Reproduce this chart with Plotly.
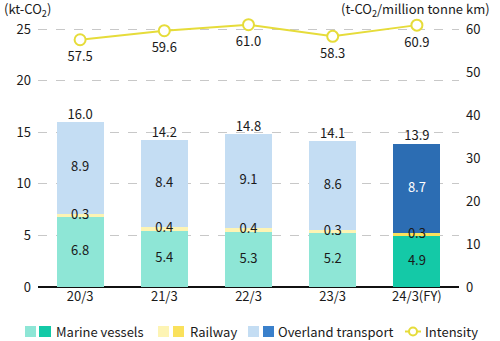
import plotly.graph_objects as go

categories = ["20/3", "21/3", "22/3", "23/3", "24/3(FY)"]
marine = [6.8, 5.4, 5.3, 5.2, 4.9]
railway = [0.3, 0.4, 0.4, 0.3, 0.3]
overland = [8.9, 8.4, 9.1, 8.6, 8.7]
totals = [16.0, 14.2, 14.8, 14.1, 13.9]
intensity = [57.5, 59.6, 61.0, 58.3, 60.9]

FONT = "Noto Sans CJK JP"
TXT = "#1a1a1a"
W, H = 500, 341
L, R, T, B = 38, 41, 18, 54

marine_c = ["#8ee6d6"] * 4 + ["#14c9a7"]
rail_c = ["#fdf4b4"] * 4 + ["#fae15c"]
over_c = ["#c4ddf3"] * 4 + ["#2c6db3"]
over_txt = [TXT] * 4 + ["#ffffff"]
YEL = "#e6dc3a"

fig = go.Figure()
fig.add_bar(x=categories, y=marine, marker=dict(color=marine_c, line=dict(width=0)), hoverinfo="skip")
fig.add_bar(x=categories, y=railway, marker=dict(color=rail_c, line=dict(width=0)), hoverinfo="skip")
fig.add_bar(x=categories, y=overland, marker=dict(color=over_c, line=dict(width=0)), hoverinfo="skip")

mid_m = [m / 2 for m in marine]
mid_r = [m + r / 2 for m, r in zip(marine, railway)]
mid_o = [m + r + o / 2 for m, r, o in zip(marine, railway, overland)]
tf = dict(family=FONT, size=13, color=TXT)
fig.add_scatter(x=categories, y=mid_m, mode="text", text=[f"{v:.1f}" for v in marine], textfont=tf, hoverinfo="skip")
fig.add_scatter(x=categories, y=mid_r, mode="text", text=[f"{v:.1f}" for v in railway], textfont=tf, hoverinfo="skip")
fig.add_scatter(x=categories, y=mid_o, mode="text", text=[f"{v:.1f}" for v in overland],
                textfont=dict(family=FONT, size=13, color=over_txt), hoverinfo="skip")
fig.add_scatter(x=categories, y=totals, mode="text", text=[f"{v:.1f}" for v in totals],
                textposition="top center", textfont=tf, hoverinfo="skip")

fig.add_scatter(x=categories, y=intensity, yaxis="y2", mode="lines+markers",
                line=dict(color=YEL, width=2),
                marker=dict(size=11, color="white", line=dict(color=YEL, width=2)),
                cliponaxis=False, hoverinfo="skip")
fig.add_scatter(x=categories, y=intensity, yaxis="y2", mode="markers+text",
                text=[f"{v:.1f}" for v in intensity], textposition="bottom center", textfont=tf,
                marker=dict(size=17, opacity=0),
                cliponaxis=False, hoverinfo="skip")

pw = W - L - R
ph = H - T - B
def px(x):
    return (x - L) / pw
def py(y):
    return (H - B - y) / ph

shapes = []
annotations = []
sw = [(25, 36, marine_c[0]), (39, 51, marine_c[4]), (158, 169, rail_c[0]), (173, 184, rail_c[4]),
      (248, 259, over_c[0]), (263, 274, "#3a80cb")]
for x0, x1, c in sw:
    shapes.append(dict(type="rect", xref="paper", yref="paper", x0=px(x0), x1=px(x1),
                       y0=py(337), y1=py(326), fillcolor=c, line=dict(width=0), layer="above"))
shapes.append(dict(type="line", xref="paper", yref="paper", x0=px(405), x1=px(421), y0=py(331.5), y1=py(331.5),
                   line=dict(color=YEL, width=2)))
shapes.append(dict(type="circle", xref="paper", yref="paper", x0=px(409), x1=px(417), y0=py(335.5), y1=py(327.5),
                   fillcolor="white", line=dict(color=YEL, width=2)))
for x, t in [(54, "Marine vessels"), (188, "Railway"), (276, "Overland transport"), (423, "Intensity")]:
    annotations.append(dict(text=t, xref="paper", yref="paper", x=px(x), y=py(331.5), xanchor="left",
                            yanchor="middle", showarrow=False, font=dict(family=FONT, size=13, color=TXT)))
annotations.append(dict(text="(kt-CO<sub>2</sub>)", xref="paper", yref="paper", x=px(2), y=py(9),
                        xanchor="left", yanchor="middle", showarrow=False, font=dict(family=FONT, size=13, color=TXT)))
annotations.append(dict(text="(t-CO<sub>2</sub>/million tonne km)", xref="paper", yref="paper", x=px(492), y=py(9),
                        xanchor="right", yanchor="middle", showarrow=False, font=dict(family=FONT, size=13, color=TXT)))

ytop = 25 * ph / 258
fig.update_layout(
    width=W, height=H, margin=dict(l=L, r=R, t=T, b=B),
    barmode="stack", bargap=0.44, showlegend=False,
    plot_bgcolor="white", paper_bgcolor="white",
    font=dict(family=FONT, size=13, color=TXT),
    xaxis=dict(showgrid=False, ticks="", showline=False, zeroline=False, tickfont=tf),
    yaxis=dict(range=[0, ytop], tickvals=[0, 5, 10, 15, 20, 25], showgrid=True, gridcolor="#c8c8c8",
               griddash="dash", gridwidth=1, zeroline=True, zerolinecolor="#111111", zerolinewidth=1.5,
               ticks="", tickfont=tf, ticklabelstandoff=6),
    yaxis2=dict(range=[0, ytop * 60 / 25], tickvals=[0, 10, 20, 30, 40, 50, 60], overlaying="y", side="right",
                showgrid=False, zeroline=False, ticks="", tickfont=tf, ticklabelstandoff=6),
    shapes=shapes, annotations=annotations,
)
fig.write_html("out.html")
